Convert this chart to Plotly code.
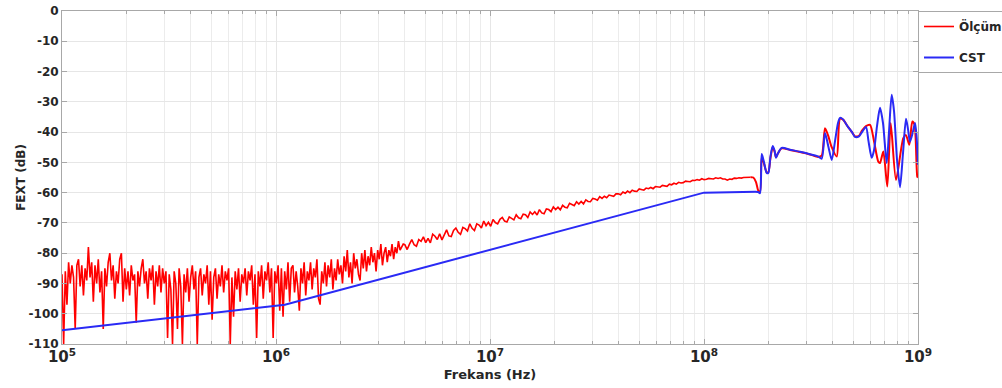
import numpy as np
import plotly.graph_objects as go

# ---------------- Measured FEXT (Ölçüm) ----------------
# Low-frequency sweep bands: (start Hz, stop Hz) and the measured dB readings
band1_range = (1e5, 1.2e6)
band1_db = [
    -87, -110, -86, -97, -83, -90, -84, -88, -105, -84,
    -82, -91, -84, -94, -85, -89, -78, -88, -83, -96,
    -84, -90, -82, -93, -86, -105, -85, -91, -83, -80,
    -89, -84, -95, -86, -90, -82, -80, -96, -85, -92,
    -86, -94, -84, -89, -87, -103, -86, -91, -85, -82,
    -90, -86, -95, -85, -89, -84, -97, -86, -91, -84,
    -93, -85, -90, -86, -108, -87, -92, -110, -86, -90,
    -105, -85, -91, -110, -87, -93, -85, -96, -88, -84,
    -92, -86, -110, -88, -85, -94, -87, -90, -84, -97,
    -86, -102, -88, -85, -95, -87, -91, -84, -93, -86,
    -89, -85, -110, -88, -101, -86, -92, -85, -96, -87,
    -90, -85, -94, -86, -89, -84, -97, -87, -108, -86,
    -91, -84, -95, -86, -89, -83, -93, -85, -108, -86,
    -90, -84, -99, -85, -101, -86, -92, -83, -96, -85,
]

band2_range = (1.2e6, 4e6)
band2_db = [
    -84, -93, -86, -91, -99, -85, -90, -83, -94, -86,
    -89, -83, -92, -85, -88, -82, -95, -97, -86, -90,
    -83, -91, -84, -88, -82, -92, -85, -89, -82, -87,
    -84, -90, -81, -86, -79, -88, -83, -90, -80, -85,
    -82, -87, -89, -80, -85, -79, -86, -81, -84, -78,
    -83, -80, -86, -79, -82, -77, -84, -80, -78, -83,
    -79, -81, -77, -82, -78, -80, -76, -79, -78, -77,
]

band3_range = (4e6, 1.65e8)
band3_db = [
    -77.2, -78.8, -77.0, -75.5, -77.2, -77.7, -75.5, -76.1, -74.6, -76.5,
    -75.1, -76.6, -73.7, -74.4, -75.5, -73.6, -75.6, -74.1, -72.3, -74.3,
    -74.5, -72.5, -71.7, -73.1, -73.8, -71.5, -71.9, -72.7, -70.3, -71.8,
    -72.5, -70.3, -70.7, -71.7, -69.4, -70.9, -69.8, -71.1, -68.9, -69.9,
    -70.3, -68.8, -68.2, -69.4, -69.7, -68.0, -68.4, -69.0, -67.3, -68.3,
    -68.6, -67.1, -67.3, -68.2, -66.4, -67.2, -66.3, -67.4, -65.6, -66.7,
    -67.0, -65.4, -65.6, -66.3, -64.7, -65.6, -64.8, -65.7, -64.2, -64.8,
    -65.0, -63.5, -63.9, -64.3, -63.0, -63.8, -62.9, -63.7, -62.4, -62.9,
    -63.0, -61.9, -62.1, -62.5, -61.3, -61.9, -61.2, -61.7, -60.8, -61.1,
    -61.2, -60.4, -60.4, -60.7, -59.8, -60.2, -59.5, -60.0, -59.2, -59.5,
    -59.6, -58.8, -59.0, -59.2, -58.5, -58.7, -58.3, -58.7, -58.0, -58.2,
    -58.2, -57.6, -57.7, -57.9, -57.2, -57.4, -56.9, -57.2, -56.6, -56.8,
    -56.7, -56.2, -56.3, -56.4, -55.9, -56.0, -55.7, -55.9, -55.4, -55.7,
    -55.6, -55.3, -55.4, -55.5, -55.1, -55.3, -55.1, -55.5, -55.5, -55.9,
    -55.5, -55.6, -55.2, -55.3, -55.1, -55.2, -55.0, -55.0, -55.1, -54.9,
]

# Resonance region of the measurement
meas_hf_freq = [
    1.65e8, 1.70e8, 1.75e8, 1.79e8, 1.827e8, 1.861e8, 1.908e8, 1.963e8,
    1.997e8, 2.045e8, 2.094e8, 2.135e8, 2.170e8, 2.217e8, 2.307e8, 2.523e8,
    2.810e8, 3.129e8, 3.410e8, 3.548e8, 3.676e8, 3.797e8, 3.952e8, 4.171e8,
    4.321e8, 4.463e8, 4.708e8, 4.915e8, 5.076e8, 5.300e8, 5.474e8, 5.715e8,
    5.967e8, 6.230e8, 6.525e8, 6.644e8, 6.885e8, 7.186e8, 7.454e8, 7.892e8,
    8.537e8, 8.788e8, 9.106e8, 9.406e8, 9.630e8, 9.925e8, 1e9,
]
meas_hf_db = [
    -54.9, -55.0, -56.5, -59.2, -59.8, -48.5, -50.5, -53.3,
    -53.3, -48.5, -45.0, -46.3, -48.3, -47.0, -45.4, -45.9,
    -46.6, -47.4, -48.2, -47.8, -38.7, -41.0, -45.0, -48.1,
    -35.6, -35.9, -38.3, -40.0, -41.4, -41.2, -39.5, -38.0,
    -37.6, -43.0, -49.8, -50.2, -46.4, -58.0, -37.0, -55.8,
    -42.0, -41.0, -44.2, -36.5, -37.5, -54.7, -55.0,
]

# ---------------- CST simulation ----------------
cst_freq = [1e5, 1.1e6, 1e8, 1.75e8]
cst_db = [-105.5, -97.0, -60.0, -59.7]

cst_hf_freq = [
    1.75e8, 1.788e8, 1.827e8, 1.861e8, 1.908e8, 1.963e8, 1.997e8, 2.045e8,
    2.094e8, 2.135e8, 2.170e8, 2.217e8, 2.307e8, 2.523e8, 2.810e8, 3.129e8,
    3.410e8, 3.548e8, 3.676e8, 3.818e8, 3.952e8, 4.095e8, 4.229e8, 4.321e8,
    4.463e8, 4.708e8, 4.915e8, 5.076e8, 5.300e8, 5.474e8, 5.715e8, 5.871e8,
    6.076e8, 6.230e8, 6.434e8, 6.644e8, 6.862e8, 7.140e8, 7.318e8, 7.534e8,
    7.724e8, 7.977e8, 8.240e8, 8.510e8, 8.788e8, 8.980e8, 9.175e8, 9.426e8,
    9.683e8, 9.840e8, 1e9,
]
cst_hf_db = [
    -59.7, -59.8, -60.2, -47.2, -50.0, -53.5, -53.5, -48.0,
    -44.6, -46.0, -48.5, -47.0, -45.2, -45.8, -46.5, -47.3,
    -48.0, -48.8, -40.3, -45.0, -49.2, -43.0, -37.0, -35.3,
    -35.8, -38.3, -40.0, -41.6, -41.4, -40.0, -38.3, -43.0,
    -48.5, -46.0, -38.0, -32.0, -37.0, -50.2, -40.0, -27.7,
    -33.0, -49.0, -58.2, -47.0, -35.6, -39.0, -43.2, -40.5,
    -37.0, -41.0, -50.8,
]

# Y axis ticks (dB), labelled with a plain hyphen
y_ticks = [0, -10, -20, -30, -40, -50, -60, -70, -80, -90, -100, -110]
y_ticklabels = [str(v) for v in y_ticks]

# Frequencies of the sweep points in each band (log-spaced analyser sweep)
f1 = np.geomspace(*band1_range, len(band1_db), endpoint=False)
f2 = np.geomspace(*band2_range, len(band2_db), endpoint=False)
f3 = np.geomspace(*band3_range, len(band3_db))
meas_freq = np.concatenate([f1, f2, f3])
meas_db = band1_db + band2_db + band3_db

RED = "#ff0000"
BLUE = "#2a2af5"
FONT = "DejaVu Sans"
TXT = "#262626"

fig = go.Figure()
fig.add_trace(go.Scatter(x=meas_freq, y=meas_db, mode="lines", name="Ölçüm",
                         legendgroup="m", line=dict(color=RED, width=1.6)))
fig.add_trace(go.Scatter(x=meas_hf_freq, y=meas_hf_db, mode="lines", name="Ölçüm",
                         legendgroup="m", showlegend=False,
                         line=dict(color=RED, width=2, shape="spline", smoothing=0.7)))
fig.add_trace(go.Scatter(x=cst_freq, y=cst_db, mode="lines", name="CST",
                         legendgroup="c", line=dict(color=BLUE, width=2)))
fig.add_trace(go.Scatter(x=cst_hf_freq, y=cst_hf_db, mode="lines", name="CST",
                         legendgroup="c", showlegend=False,
                         line=dict(color=BLUE, width=2, shape="spline", smoothing=0.7)))

axis_common = dict(
    showline=True, linecolor="#a8a8a8", linewidth=1, mirror="ticks",
    ticks="inside", ticklen=5, tickcolor="#a8a8a8",
    showgrid=True, gridcolor="#e6e6e6", gridwidth=1, zeroline=False,
    tickfont=dict(family=FONT, size=12, color=TXT, weight="bold"),
)

fig.update_xaxes(
    type="log", range=[5, 9], dtick=1, exponentformat="power",
    title=dict(text="Frekans (Hz)", font=dict(family=FONT, size=13, color=TXT, weight="bold"),
               standoff=4),
    minor=dict(ticks="inside", ticklen=3, tickcolor="#a8a8a8", showgrid=True,
               gridcolor="#ececec", dtick="D1"),
    **axis_common,
)
fig.update_yaxes(
    range=[-110, 0], tickmode="array", tickvals=y_ticks, ticktext=y_ticklabels,
    title=dict(text="FEXT (dB)", font=dict(family=FONT, size=12, color=TXT, weight="bold"),
               standoff=0),
    **axis_common,
)

fig.update_layout(
    width=1002, height=388,
    margin=dict(l=62, r=84, t=11, b=44, autoexpand=False),
    paper_bgcolor="white", plot_bgcolor="white",
    showlegend=True,
    legend=dict(
        x=1.0, xanchor="left", y=1.0, yanchor="top",
        bordercolor="#a8a8a8", borderwidth=1, bgcolor="white",
        font=dict(family=FONT, size=12, color=TXT, weight="bold"),
        itemwidth=30, tracegroupgap=12,
    ),
)

fig.write_html("out.html")
